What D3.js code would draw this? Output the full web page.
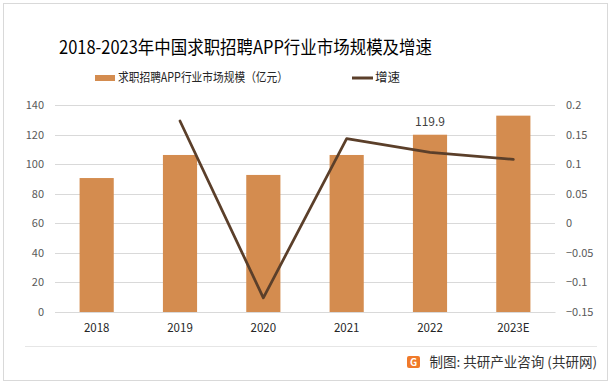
<!DOCTYPE html>
<html>
<head>
<meta charset="utf-8">
<script src="https://cdn.jsdelivr.net/npm/d3@7"></script>
<style>
body { margin: 0; background: #fff; }
text { font-family: "Noto Sans CJK SC", "Noto Sans", sans-serif; }
</style>
</head>
<body>
<div id="chart"></div>
<script>
// data
var years = ["2018", "2019", "2020", "2021", "2022", "2023E"];
var marketSize = [90.6, 106.2, 92.7, 106.2, 119.9, 132.8];
var growth = [null, 0.173, -0.126, 0.143, 0.12, 0.108];
var leftTicks = [0, 20, 40, 60, 80, 100, 120, 140];
var rightTicks = [-0.15, -0.1, -0.05, 0, 0.05, 0.1, 0.15, 0.2];

var svgWidth = 614, svgHeight = 385;
var margin = { top: 105, right: 59, bottom: 73, left: 55 };
var width = svgWidth - margin.left - margin.right;
var height = svgHeight - margin.top - margin.bottom;

var svg = d3.select("#chart").append("svg")
    .attr("width", svgWidth)
    .attr("height", svgHeight);

// frame
svg.append("rect")
    .attr("x", 3.5).attr("y", 3.5)
    .attr("width", 604).attr("height", 377)
    .attr("fill", "#fff")
    .attr("stroke", "#d9d9d9");
svg.append("line")
    .attr("x1", 25).attr("x2", 597)
    .attr("y1", 346.5).attr("y2", 346.5)
    .attr("stroke", "#e6e6e6");

var g = svg.append("g")
    .attr("transform", `translate(${margin.left}, ${margin.top})`);

var x = d3.scaleBand().domain(years).range([0, width]).paddingInner(0.59).paddingOuter(0.295);
var yL = d3.scaleLinear().domain([0, 140]).range([height, 0]);
var yR = d3.scaleLinear().domain([-0.15, 0.2]).range([height, 0]);

// gridlines
g.append("g").selectAll("line")
    .data(leftTicks)
    .enter().append("line")
    .attr("x1", 0).attr("x2", width)
    .attr("y1", d => Math.round(yL(d)) + 0.5)
    .attr("y2", d => Math.round(yL(d)) + 0.5)
    .attr("stroke", "#d9d9d9");

// left axis
var leftAxis = d3.axisLeft(yL).tickValues(leftTicks).tickSize(0).tickPadding(11);
var la = g.append("g").call(leftAxis);
la.select(".domain").remove();
la.selectAll("text").attr("font-size", "11px").attr("fill", "#595959");

// right axis
var rightAxis = d3.axisRight(yR).tickValues(rightTicks).tickSize(0).tickPadding(11)
    .tickFormat(d => d3.format("")(Math.round(d * 100) / 100));
var ra = g.append("g").attr("transform", `translate(${width},0)`).call(rightAxis);
ra.select(".domain").remove();
ra.selectAll("text").attr("font-size", "11px").attr("fill", "#595959");

// bars
g.selectAll(".bar")
    .data(marketSize)
    .enter().append("rect")
    .attr("class", "bar")
    .attr("x", (d, i) => x(years[i]))
    .attr("width", x.bandwidth())
    .attr("y", d => yL(d))
    .attr("height", d => height - yL(d))
    .attr("fill", "#d48c4f");

// bottom axis
var bottomAxis = d3.axisBottom(x).tickSize(0).tickPadding(12);
var ba = g.append("g").attr("transform", `translate(0, ${height})`).call(bottomAxis);
ba.select(".domain").attr("stroke", "#d9d9d9");
ba.selectAll("text").attr("font-size", "11.5px").attr("fill", "#262626");

// growth line
var lineData = growth.map((v, i) => ({ year: years[i], v: v })).filter(d => d.v !== null);
var line = d3.line()
    .x(d => x(d.year) + x.bandwidth() / 2)
    .y(d => yR(d.v));
g.append("path")
    .datum(lineData)
    .attr("d", line)
    .attr("fill", "none")
    .attr("stroke", "#5b3f2a")
    .attr("stroke-width", 2.75)
    .attr("stroke-linejoin", "round")
    .attr("stroke-linecap", "round");

// data label
g.append("text")
    .attr("x", x("2022") + x.bandwidth() / 2)
    .attr("y", yL(119.9) - 9)
    .attr("text-anchor", "middle")
    .attr("font-size", "12px")
    .attr("fill", "#404040")
    .text("119.9");

// title
svg.append("text")
    .attr("x", 59).attr("y", 54)
    .attr("font-size", "18px")
    .attr("fill", "#000")
    .attr("textLength", 373)
    .attr("lengthAdjust", "spacingAndGlyphs")
    .text("2018-2023年中国求职招聘APP行业市场规模及增速");

// legend
svg.append("rect")
    .attr("x", 95).attr("y", 75).attr("width", 20).attr("height", 6)
    .attr("fill", "#d48c4f");
svg.append("text")
    .attr("x", 118).attr("y", 82)
    .attr("font-size", "12.5px").attr("fill", "#262626")
    .attr("textLength", 170)
    .attr("lengthAdjust", "spacingAndGlyphs")
    .text("求职招聘APP行业市场规模（亿元）");
svg.append("line")
    .attr("x1", 352).attr("x2", 373).attr("y1", 78).attr("y2", 78)
    .attr("stroke", "#5b3f2a").attr("stroke-width", 3);
svg.append("text")
    .attr("x", 375).attr("y", 82)
    .attr("font-size", "12.5px").attr("fill", "#262626")
    .text("增速");

// footer
var logo = svg.append("g").attr("transform", "translate(407,356)");
logo.append("rect").attr("width", 13).attr("height", 12).attr("rx", 2).attr("fill", "#f07a2a");
logo.append("text").attr("x", 6.5).attr("y", 10).attr("text-anchor", "middle")
    .attr("font-size", "10px").attr("font-weight", "bold").attr("fill", "#fff").text("G");
svg.append("text")
    .attr("x", 597).attr("y", 367)
    .attr("text-anchor", "end")
    .attr("font-size", "13.5px").attr("fill", "#333")
    .text("制图: 共研产业咨询 (共研网)");
</script>
</body>
</html>
